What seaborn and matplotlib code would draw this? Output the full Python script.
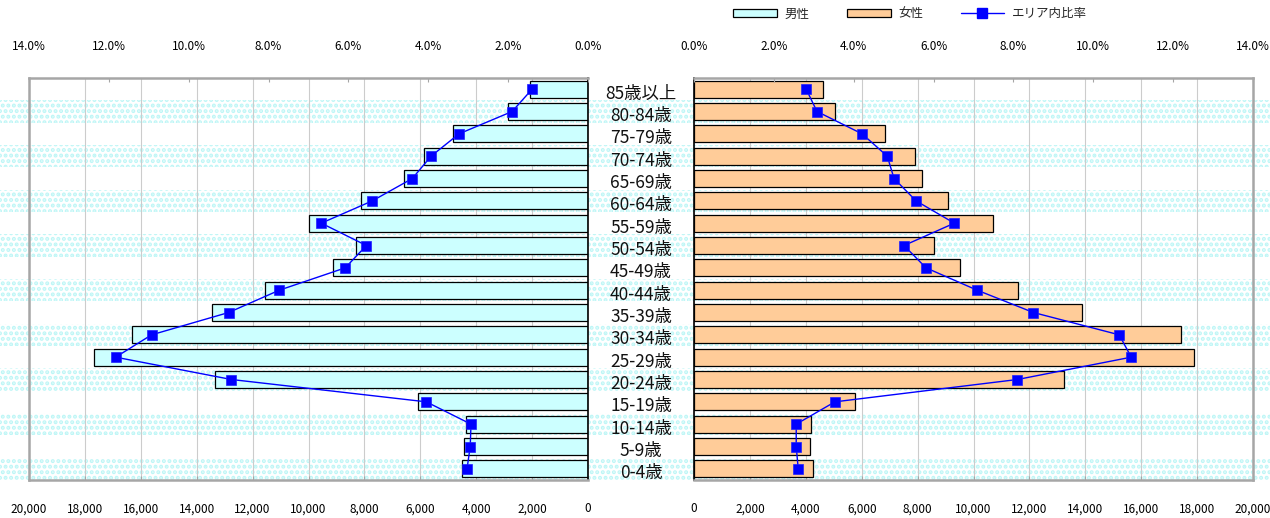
"""
Population pyramid by age group (male / female) with area ratio line.
"""

import numpy as np
import seaborn as sns
import matplotlib.pyplot as plt
from matplotlib import transforms
from matplotlib.patches import Rectangle, Patch
from matplotlib.lines import Line2D
from matplotlib.ticker import FuncFormatter

age_groups = ["85歳以上", "80-84歳", "75-79歳", "70-74歳", "65-69歳", "60-64歳",
              "55-59歳", "50-54歳", "45-49歳", "40-44歳", "35-39歳", "30-34歳",
              "25-29歳", "20-24歳", "15-19歳", "10-14歳", "5-9歳", "0-4歳"]
male_pop = [2070, 2860, 4820, 5860, 6570, 8110, 10000, 8290, 9110, 11570,
            13460, 16320, 17680, 13360, 6070, 4360, 4430, 4500]
female_pop = [4620, 5050, 6850, 7890, 8170, 9100, 10680, 8600, 9500, 11580,
              13870, 17420, 17890, 13230, 5770, 4190, 4160, 4270]
male_ratio = [1.40, 1.90, 3.23, 3.93, 4.40, 5.40, 6.68, 5.55, 6.08, 7.73,
              9.00, 10.93, 11.83, 8.93, 4.05, 2.93, 2.95, 3.03]
female_ratio = [2.81, 3.08, 4.21, 4.84, 5.01, 5.56, 6.52, 5.26, 5.81, 7.09,
                8.50, 10.65, 10.95, 8.10, 3.53, 2.56, 2.56, 2.61]
count_ticks = list(range(0, 20001, 2000))
ratio_ticks = [0, 2, 4, 6, 8, 10, 12, 14]
legend_labels = ["男性", "女性", "エリア内比率"]

MALE_COLOR = "#ccffff"
FEMALE_COLOR = "#ffcc99"
LINE_COLOR = "#0000ff"
FRAME_GRAY = "#a6a6a6"
GRID_GRAY = "#cccccc"
BAND_COLOR = "#bdf6f6"

sns.set_style("white")
plt.rcParams["font.family"] = ["Noto Sans CJK JP", "DejaVu Sans"]
plt.rcParams["hatch.linewidth"] = 2.0

W, H = 1270, 518
n = len(age_groups)
positions = np.arange(n)

fig = plt.figure(figsize=(W / 100, H / 100), dpi=100)
ax_m = fig.add_axes([29 / W, 38 / H, 559 / W, 402 / H])
ax_f = fig.add_axes([694 / W, 38 / H, 559 / W, 402 / H])


def draw_side(ax, counts, ratios, color, reverse):
    ax.set_facecolor("none")
    sns.barplot(x=counts, y=age_groups, orient="h", color=color, saturation=1,
                edgecolor="black", linewidth=0.9, width=0.77, ax=ax, zorder=2)
    ax.set_xlim((20000, 0) if reverse else (0, 20000))
    ax.set_xticks(count_ticks)
    ax.xaxis.set_major_formatter(FuncFormatter(lambda v, p: f"{int(v):,}"))
    ax.grid(axis="x", color=GRID_GRAY, lw=0.8)
    ax.set_axisbelow(True)
    ax.tick_params(axis="x", direction="in", length=3, pad=16, labelsize=8.5,
                   color=FRAME_GRAY, labelcolor="black")
    ax.tick_params(axis="y", left=False, labelleft=False)
    ax.set_xlabel("")
    ax.set_ylabel("")

    twin = ax.twiny()
    sns.lineplot(x=ratios, y=positions, sort=False, estimator=None, color=LINE_COLOR,
                 marker="s", markersize=7.5, markeredgecolor="#2020ff",
                 markeredgewidth=0.5, lw=1, ax=twin, zorder=3)
    twin.set_xlim((14, 0) if reverse else (0, 14))
    twin.set_xticks(ratio_ticks)
    twin.xaxis.set_major_formatter(FuncFormatter(lambda v, p: f"{v:.1f}%"))
    twin.tick_params(axis="x", direction="in", length=3, pad=18, labelsize=8.5,
                     color=FRAME_GRAY, labelcolor="black")
    twin.set_xlabel("")
    twin.set_ylabel("")
    twin.set_ylim(n - 0.5, -0.5)
    for s in twin.spines.values():
        s.set_visible(False)

    axis_side = "right" if reverse else "left"
    for name, s in ax.spines.items():
        if name == axis_side:
            s.set_color("black")
            s.set_linewidth(1.2)
        else:
            s.set_color(FRAME_GRAY)
            s.set_linewidth(1.8)


draw_side(ax_m, male_pop, male_ratio, MALE_COLOR, reverse=True)
draw_side(ax_f, female_pop, female_ratio, FEMALE_COLOR, reverse=False)

# dotted bands on every other row, across the whole figure
row_trans = transforms.blended_transform_factory(fig.transFigure, ax_f.transData)
for i in range(1, n, 2):
    fig.add_artist(Rectangle((0, i - 0.5), 1, 1, transform=row_trans, facecolor="none",
                             edgecolor=BAND_COLOR, hatch="...", lw=0, zorder=-1))

# age labels in the centre gap
for i, label in enumerate(age_groups):
    fig.text(641 / W, i + 0.2, label, transform=row_trans, ha="center", va="center",
             fontsize=12.5, color="#111111")

handles = [
    Patch(facecolor=MALE_COLOR, edgecolor="black", lw=0.9),
    Patch(facecolor=FEMALE_COLOR, edgecolor="black", lw=0.9),
    Line2D([], [], color=LINE_COLOR, marker="s", markersize=7, lw=1),
]
fig.legend(handles, legend_labels, loc="center", bbox_to_anchor=(910 / W, 1 - 14 / H),
           ncol=3, frameon=False, fontsize=9, handlelength=3.5, handleheight=0.6,
           handletextpad=0.6, columnspacing=3)

fig.savefig("out.png", dpi=100)
